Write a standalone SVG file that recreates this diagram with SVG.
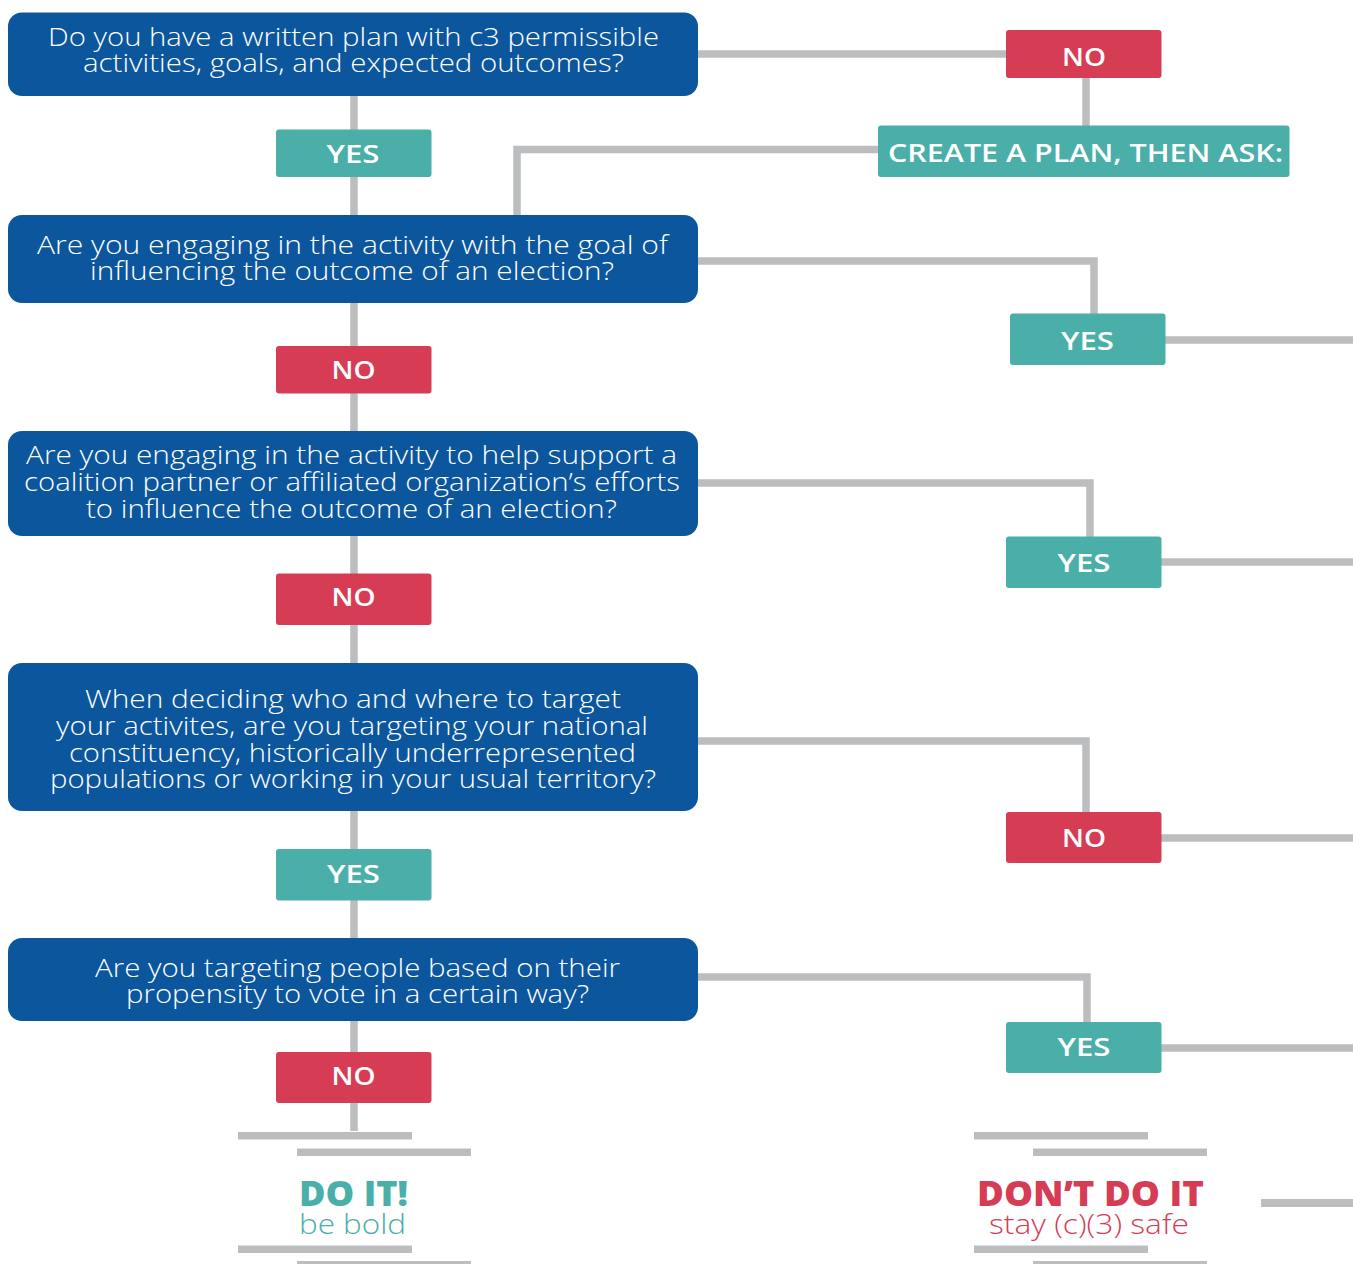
<svg xmlns="http://www.w3.org/2000/svg" width="1353" height="1264" viewBox="0 0 1353 1264">
<style>
.c{fill:none;stroke:#bcbdbf;stroke-width:7.5;stroke-linejoin:miter;stroke-linecap:butt}
.bar{fill:#bcbdbf}
.q{fill:#0b569d}
.y{fill:#4aaea9}
.n{fill:#d73c55}
.qt{font-family:"Open Sans","DejaVu Sans",sans-serif;font-weight:300;font-size:26px;fill:#ffffff;text-anchor:middle}
.lt{font-family:"Open Sans","DejaVu Sans",sans-serif;font-weight:600;font-size:25px;fill:#ffffff;text-anchor:middle}
.big{font-family:"Open Sans","DejaVu Sans",sans-serif;font-weight:800;font-size:36px;text-anchor:middle}
.sub{font-family:"Open Sans","DejaVu Sans",sans-serif;font-weight:300;font-size:28px;text-anchor:middle}
</style>
<rect width="1353" height="1264" fill="#ffffff"/>
<g id="connectors">
<polyline class="c" points="354,96 354,1131"/>
<polyline class="c" points="698,54 1010,54"/>
<polyline class="c" points="1086,76 1086,128"/>
<polyline class="c" points="880,149.5 517,149.5 517,217"/>
<polyline class="c" points="696,261 1094,261 1094,316"/>
<polyline class="c" points="1163,340 1353,340"/>
<polyline class="c" points="696,483 1090,483 1090,539"/>
<polyline class="c" points="1159,562 1353,562"/>
<polyline class="c" points="696,741 1086,741 1086,814"/>
<polyline class="c" points="1159,838 1353,838"/>
<polyline class="c" points="696,977 1087,977 1087,1024"/>
<polyline class="c" points="1159,1048 1353,1048"/>
<rect class="bar" x="238" y="1132" width="174" height="7.5"/>
<rect class="bar" x="297" y="1148.5" width="174" height="7.5"/>
<rect class="bar" x="238" y="1245.5" width="174" height="7.5"/>
<rect class="bar" x="297" y="1261" width="174" height="7.5"/>
<rect class="bar" x="974" y="1132" width="174" height="7.5"/>
<rect class="bar" x="1033" y="1148.5" width="174" height="7.5"/>
<rect class="bar" x="974" y="1245.5" width="174" height="7.5"/>
<rect class="bar" x="1033" y="1261" width="174" height="7.5"/>
<rect class="bar" x="1261" y="1199" width="92" height="8"/>
</g>
<g id="q1">
<rect class="q" x="8" y="12.5" width="690" height="83.5" rx="14"/>
<text class="qt" x="353.5" y="46" textLength="611" lengthAdjust="spacingAndGlyphs">Do you have a written plan with c3 permissible</text>
<text class="qt" x="353.5" y="72" textLength="541" lengthAdjust="spacingAndGlyphs">activities, goals, and expected outcomes?</text>
</g>
<g id="yes1">
<rect class="y" x="276" y="129.5" width="155.5" height="47.5" rx="3"/>
<text class="lt" x="353" y="163" textLength="53" lengthAdjust="spacingAndGlyphs">YES</text>
</g>
<g id="no-top">
<rect class="n" x="1006" y="30" width="155.5" height="48" rx="3"/>
<text class="lt" x="1084" y="66" textLength="44" lengthAdjust="spacingAndGlyphs">NO</text>
</g>
<g id="create-plan">
<rect class="y" x="878" y="125.5" width="411.5" height="51.5" rx="3"/>
<text class="lt" x="1085.5" y="162" textLength="395" lengthAdjust="spacingAndGlyphs">CREATE A PLAN, THEN ASK:</text>
</g>
<g id="q2">
<rect class="q" x="8" y="215" width="690" height="88" rx="14"/>
<text class="qt" x="352.5" y="254" textLength="631" lengthAdjust="spacingAndGlyphs">Are you engaging in the activity with the goal of</text>
<text class="qt" x="352" y="280" textLength="524" lengthAdjust="spacingAndGlyphs">influencing the outcome of an election?</text>
</g>
<g id="yes2">
<rect class="y" x="1010" y="313.5" width="155.5" height="51.5" rx="3"/>
<text class="lt" x="1087.5" y="350" textLength="53" lengthAdjust="spacingAndGlyphs">YES</text>
</g>
<g id="no2">
<rect class="n" x="276" y="346" width="155.5" height="47.5" rx="3"/>
<text class="lt" x="353.5" y="379" textLength="44" lengthAdjust="spacingAndGlyphs">NO</text>
</g>
<g id="q3">
<rect class="q" x="8" y="431" width="690" height="105" rx="14"/>
<text class="qt" x="351.5" y="464" textLength="651" lengthAdjust="spacingAndGlyphs">Are you engaging in the activity to help support a</text>
<text class="qt" x="352" y="491" textLength="656" lengthAdjust="spacingAndGlyphs">coalition partner or affiliated organization’s efforts</text>
<text class="qt" x="351.5" y="518" textLength="531" lengthAdjust="spacingAndGlyphs">to influence the outcome of an election?</text>
</g>
<g id="yes3">
<rect class="y" x="1006" y="536.5" width="155.5" height="51.5" rx="3"/>
<text class="lt" x="1084" y="572" textLength="53" lengthAdjust="spacingAndGlyphs">YES</text>
</g>
<g id="no3">
<rect class="n" x="276" y="573.5" width="155.5" height="51.5" rx="3"/>
<text class="lt" x="353.5" y="606" textLength="44" lengthAdjust="spacingAndGlyphs">NO</text>
</g>
<g id="q4">
<rect class="q" x="8" y="663" width="690" height="148" rx="14"/>
<text class="qt" x="353" y="708" textLength="536" lengthAdjust="spacingAndGlyphs">When deciding who and where to target</text>
<text class="qt" x="352" y="735" textLength="592" lengthAdjust="spacingAndGlyphs">your activites, are you targeting your national</text>
<text class="qt" x="352.5" y="762" textLength="567" lengthAdjust="spacingAndGlyphs">constituency, historically underrepresented</text>
<text class="qt" x="353" y="788" textLength="606" lengthAdjust="spacingAndGlyphs">populations or working in your usual territory?</text>
</g>
<g id="no4">
<rect class="n" x="1006" y="812" width="155.5" height="51" rx="3"/>
<text class="lt" x="1084" y="847" textLength="44" lengthAdjust="spacingAndGlyphs">NO</text>
</g>
<g id="yes4">
<rect class="y" x="276" y="849" width="155.5" height="51.5" rx="3"/>
<text class="lt" x="353.5" y="883" textLength="53" lengthAdjust="spacingAndGlyphs">YES</text>
</g>
<g id="q5">
<rect class="q" x="8" y="938" width="690" height="83" rx="14"/>
<text class="qt" x="357.5" y="977" textLength="525" lengthAdjust="spacingAndGlyphs">Are you targeting people based on their</text>
<text class="qt" x="357.5" y="1003" textLength="463" lengthAdjust="spacingAndGlyphs">propensity to vote in a certain way?</text>
</g>
<g id="yes5">
<rect class="y" x="1006" y="1022" width="155.5" height="51" rx="3"/>
<text class="lt" x="1084" y="1056" textLength="53" lengthAdjust="spacingAndGlyphs">YES</text>
</g>
<g id="no5">
<rect class="n" x="276" y="1052" width="155.5" height="51" rx="3"/>
<text class="lt" x="353.5" y="1085" textLength="44" lengthAdjust="spacingAndGlyphs">NO</text>
</g>
<g id="do-it">
<text class="big" x="353.5" y="1206" fill="#4aaea9" textLength="109" lengthAdjust="spacingAndGlyphs">DO IT!</text>
<text class="sub" x="352.5" y="1234" fill="#4aaea9" textLength="107" lengthAdjust="spacingAndGlyphs">be bold</text>
</g>
<g id="dont-do-it">
<text class="big" x="1090.5" y="1206" fill="#d73c55" textLength="227" lengthAdjust="spacingAndGlyphs">DON’T DO IT</text>
<text class="sub" x="1089" y="1234" fill="#d73c55" textLength="200" lengthAdjust="spacingAndGlyphs">stay (c)(3) safe</text>
</g>
</svg>
